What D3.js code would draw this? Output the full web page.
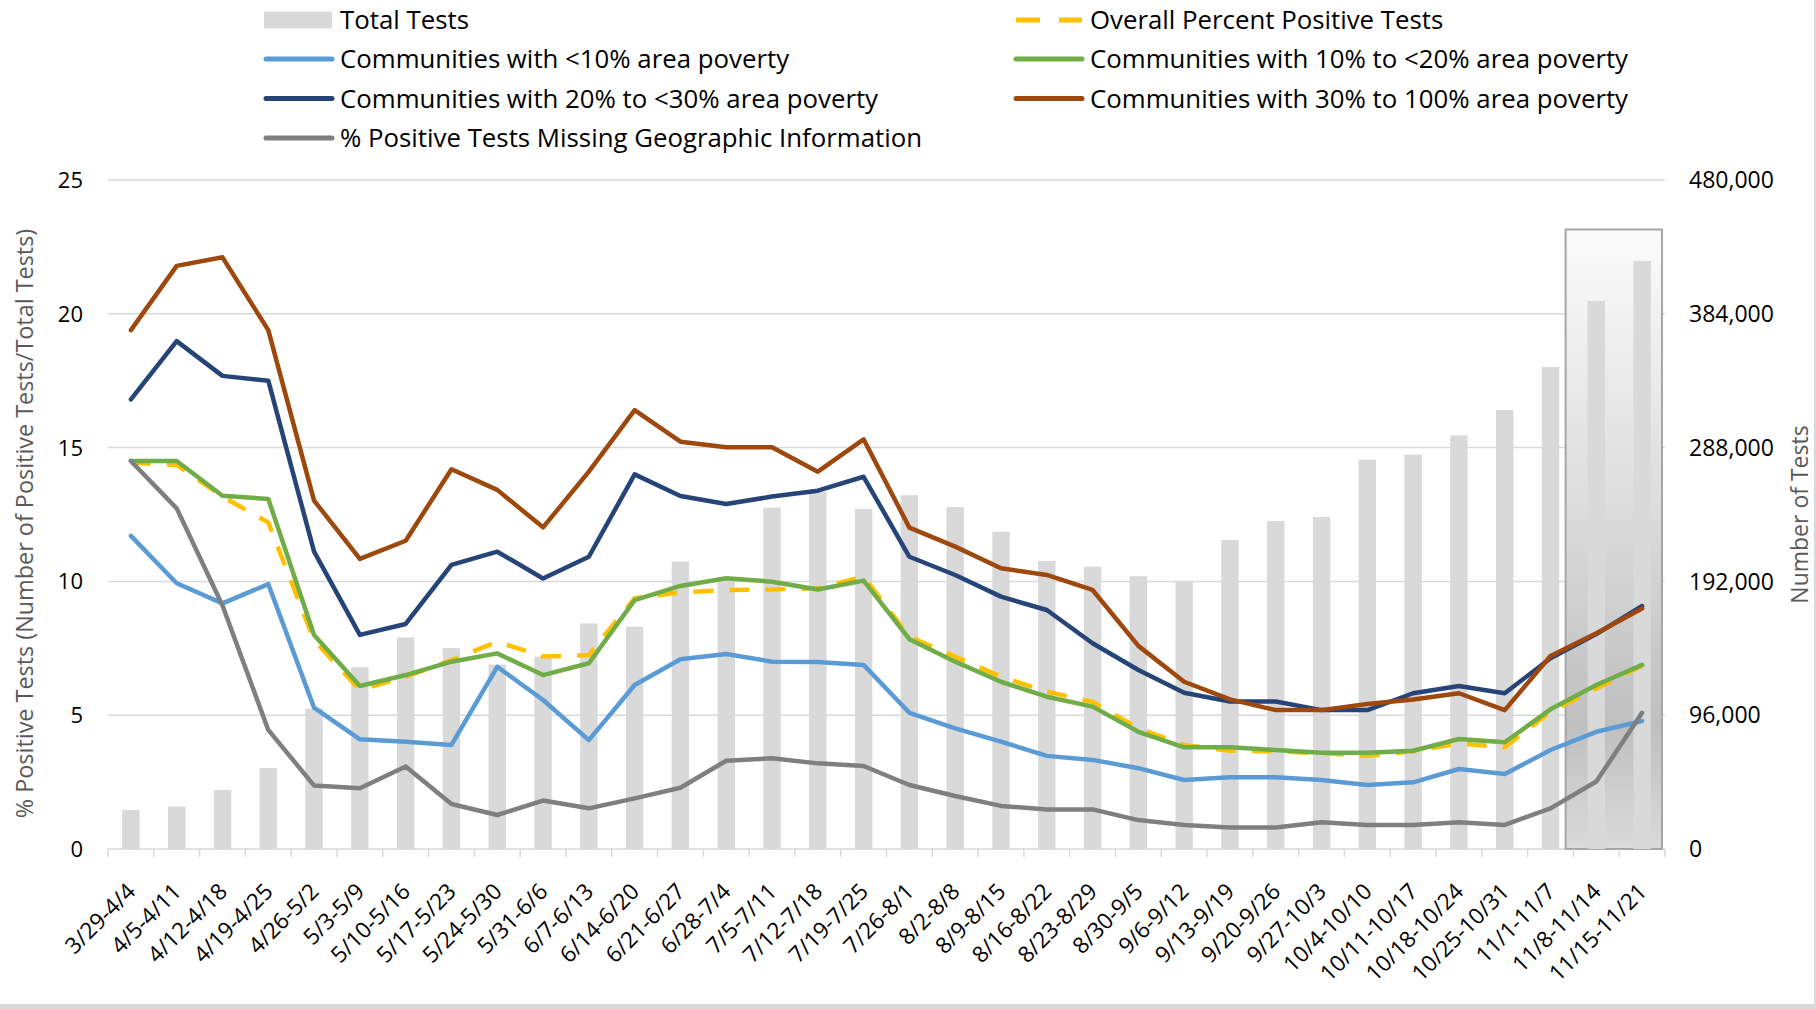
<!DOCTYPE html>
<html>
<head>
<meta charset="utf-8">
<script src="https://cdn.jsdelivr.net/npm/d3@7"></script>
<style>
  body { margin: 0; background: #fff; }
  svg { display: block; }
  text { font-family: "Open Sans", sans-serif; fill: #000; }
</style>
</head>
<body>
<div id="chart"></div>
<script>
// weekly data
const weeks = ["3/29-4/4", "4/5-4/11", "4/12-4/18", "4/19-4/25", "4/26-5/2", "5/3-5/9",
  "5/10-5/16", "5/17-5/23", "5/24-5/30", "5/31-6/6", "6/7-6/13", "6/14-6/20", "6/21-6/27",
  "6/28-7/4", "7/5-7/11", "7/12-7/18", "7/19-7/25", "7/26-8/1", "8/2-8/8", "8/9-8/15",
  "8/16-8/22", "8/23-8/29", "8/30-9/5", "9/6-9/12", "9/13-9/19", "9/20-9/26", "9/27-10/3",
  "10/4-10/10", "10/11-10/17", "10/18-10/24", "10/25-10/31", "11/1-11/7", "11/8-11/14", "11/15-11/21"];

const totalTests = [28000, 30500, 42300, 58100, 100700, 130400, 151900, 144200, 132300, 138000,
  161900, 159500, 206200, 195000, 244900, 256400, 244000, 253800, 245400, 227700, 206600, 202600,
  195700, 191800, 221700, 235300, 238200, 279400, 283000, 296800, 315000, 345800, 393200, 421900];

const overallPct = [14.44, 14.35, 13.17, 12.2, 7.8, 5.94, 6.44, 7.06, 7.75, 7.19, 7.25, 9.37, 9.59,
  9.68, 9.7, 9.74, 10.18, 7.93, 7.19, 6.44, 5.88, 5.5, 4.51, 3.89, 3.67, 3.65, 3.58, 3.48, 3.65,
  3.95, 3.8, 5.13, 6.0, 6.85];

const povertyUnder10 = [11.7, 9.93, 9.18, 9.9, 5.28, 4.1, 4.01, 3.89, 6.81, 5.57, 4.07, 6.13, 7.09,
  7.29, 7.0, 6.99, 6.88, 5.09, 4.51, 4.01, 3.48, 3.33, 3.02, 2.58, 2.68, 2.68, 2.58, 2.39, 2.49,
  2.99, 2.8, 3.7, 4.38, 4.78];

const poverty10to20 = [14.5, 14.5, 13.2, 13.08, 8.0, 6.09, 6.5, 7.0, 7.31, 6.5, 6.94, 9.3, 9.83,
  10.12, 9.99, 9.7, 10.03, 7.84, 7.0, 6.25, 5.69, 5.32, 4.38, 3.8, 3.8, 3.7, 3.6, 3.6, 3.67, 4.11,
  3.99, 5.22, 6.13, 6.88];

const poverty20to30 = [16.8, 18.98, 17.68, 17.5, 11.11, 8.0, 8.41, 10.62, 11.11, 10.11, 10.92, 14.0,
  13.19, 12.89, 13.17, 13.39, 13.91, 10.92, 10.24, 9.43, 8.93, 7.69, 6.69, 5.84, 5.51, 5.51, 5.19,
  5.19, 5.82, 6.09, 5.82, 7.13, 8.03, 9.08];

const poverty30to100 = [19.39, 21.79, 22.11, 19.39, 13.02, 10.84, 11.52, 14.19, 13.42, 12.02, 14.1,
  16.4, 15.22, 15.01, 15.01, 14.1, 15.31, 12.01, 11.3, 10.49, 10.24, 9.68, 7.59, 6.25, 5.59, 5.19,
  5.19, 5.42, 5.59, 5.82, 5.19, 7.21, 8.06, 8.99];

const missingGeo = [14.5, 12.73, 9.1, 4.45, 2.37, 2.27, 3.08, 1.68, 1.27, 1.81, 1.52, 1.89, 2.29,
  3.3, 3.39, 3.2, 3.1, 2.39, 1.98, 1.61, 1.48, 1.48, 1.08, 0.9, 0.8, 0.8, 1.0, 0.9, 0.9, 1.0, 0.9,
  1.52, 2.52, 5.09];

const leftTicks = [0, 5, 10, 15, 20, 25];
const rightTicks = [0, 96000, 192000, 288000, 384000, 480000];

const width = 1816, height = 1009;
const plot = { left: 108, right: 1665, top: 180, bottom: 849 };

const series = [
  { name: "Overall Percent Positive Tests", values: overallPct, color: "#ffc000", dash: "20,16" },
  { name: "Communities with <10% area poverty", values: povertyUnder10, color: "#5b9bd5" },
  { name: "Communities with 10% to <20% area poverty", values: poverty10to20, color: "#70ad47" },
  { name: "Communities with 20% to <30% area poverty", values: poverty20to30, color: "#264478" },
  { name: "Communities with 30% to 100% area poverty", values: poverty30to100, color: "#9e480e" },
  { name: "% Positive Tests Missing Geographic Information", values: missingGeo, color: "#7f7f7f" }
];

let svg = d3.select("#chart")
  .append("svg")
  .attr("width", width)
  .attr("height", height);

let x = d3.scaleBand()
  .domain(weeks)
  .range([plot.left, plot.right])
  .padding(0);

let yLeft = d3.scaleLinear().domain([0, 25]).range([plot.bottom, plot.top]);
let yRight = d3.scaleLinear().domain([0, 480000]).range([plot.bottom, plot.top]);

let step = x.bandwidth();
let barW = step * 0.38;
let cx = d => x(d) + step / 2;

// frame edges at right and bottom
svg.append("line")
  .attr("x1", 0).attr("x2", width)
  .attr("y1", height - 2.5).attr("y2", height - 2.5)
  .attr("stroke", "#d9d9d9").attr("stroke-width", 5);
svg.append("line")
  .attr("x1", width - 1).attr("x2", width - 1)
  .attr("y1", 0).attr("y2", height)
  .attr("stroke", "#d9d9d9").attr("stroke-width", 2);

// gridlines
svg.append("g")
  .selectAll("line")
  .data(leftTicks)
  .enter().append("line")
    .attr("x1", plot.left).attr("x2", plot.right)
    .attr("y1", d => yLeft(d)).attr("y2", d => yLeft(d))
    .attr("stroke", "#d9d9d9")
    .attr("stroke-width", 1.5);

// highlighted last two weeks
let grad = svg.append("defs").append("linearGradient")
  .attr("id", "boxGrad")
  .attr("x1", 0).attr("y1", 0).attr("x2", 0).attr("y2", 1);
[[0, "#fbfbfb"], [0.45, "#dcdcdc"], [0.8, "#bfbfbf"], [1, "#dadada"]].forEach(s => {
  grad.append("stop").attr("offset", s[0]).attr("stop-color", s[1]);
});

svg.append("rect")
  .attr("x", x(weeks[32]) - step * 0.17)
  .attr("y", yLeft(23.15))
  .attr("width", plot.right - 3 - (x(weeks[32]) - step * 0.17))
  .attr("height", yLeft(0) - yLeft(23.15))
  .attr("fill", "url(#boxGrad)")
  .attr("stroke", "#a6a6a6")
  .attr("stroke-width", 2);

// total tests bars
svg.append("g")
  .selectAll("rect")
  .data(totalTests)
  .enter().append("rect")
    .attr("x", (d, i) => cx(weeks[i]) - barW / 2)
    .attr("y", d => yRight(d))
    .attr("width", barW)
    .attr("height", d => yRight(0) - yRight(d))
    .attr("fill", "#d9d9d9");

// x axis ticks at category boundaries
let edges = weeks.map(w => x(w)).concat([plot.right]);
svg.append("g")
  .selectAll("line")
  .data(edges)
  .enter().append("line")
    .attr("x1", d => d).attr("x2", d => d)
    .attr("y1", plot.bottom).attr("y2", plot.bottom + 8)
    .attr("stroke", "#d9d9d9")
    .attr("stroke-width", 1.5);

// lines
let line = d3.line()
  .x((d, i) => cx(weeks[i]))
  .y(d => yLeft(d));

series.forEach(s => {
  svg.append("path")
    .datum(s.values)
    .attr("d", line)
    .attr("fill", "none")
    .attr("stroke", s.color)
    .attr("stroke-width", 4.5)
    .attr("stroke-linejoin", "round")
    .attr("stroke-linecap", s.dash ? "butt" : "round")
    .attr("stroke-dasharray", s.dash || null);
});

// left axis labels
svg.append("g")
  .selectAll("text")
  .data(leftTicks)
  .enter().append("text")
    .attr("x", 83)
    .attr("y", d => yLeft(d))
    .attr("dy", "0.36em")
    .attr("text-anchor", "end")
    .attr("font-size", 22)
    .text(d => d);

// right axis labels
svg.append("g")
  .selectAll("text")
  .data(rightTicks)
  .enter().append("text")
    .attr("x", 1689)
    .attr("y", d => yRight(d))
    .attr("dy", "0.36em")
    .attr("text-anchor", "start")
    .attr("font-size", 23)
    .text(d => d3.format(",")(d));

// category labels
svg.append("g")
  .selectAll("text")
  .data(weeks)
  .enter().append("text")
    .attr("transform", d => "translate(" + (cx(d) + 6) + "," + (plot.bottom + 44) + ") rotate(-45)")
    .attr("text-anchor", "end")
    .attr("font-size", 22.5)
    .text(d => d);

// axis titles
svg.append("text")
  .attr("transform", "translate(33," + ((plot.top + plot.bottom) / 2 + 9) + ") rotate(-90)")
  .attr("text-anchor", "middle")
  .attr("font-size", 23.4)
  .style("fill", "#595959")
  .text("% Positive Tests (Number of Positive Tests/Total Tests)");

svg.append("text")
  .attr("transform", "translate(1808," + (plot.top + plot.bottom) / 2 + ") rotate(-90)")
  .attr("text-anchor", "middle")
  .attr("font-size", 23)
  .style("fill", "#595959")
  .text("Number of Tests");

// legend
let legendItems = [
  { label: "Total Tests", type: "bar", col: 0, row: 0 },
  { label: series[0].name, s: series[0], col: 1, row: 0 },
  { label: series[1].name, s: series[1], col: 0, row: 1 },
  { label: series[2].name, s: series[2], col: 1, row: 1 },
  { label: series[3].name, s: series[3], col: 0, row: 2 },
  { label: series[4].name, s: series[4], col: 1, row: 2 },
  { label: series[5].name, s: series[5], col: 0, row: 3 }
];
let colX = [264, 1014];
let rowY = [20, 59, 98.5, 138];

let legend = svg.append("g");
legendItems.forEach(item => {
  let lx = colX[item.col], ly = rowY[item.row];
  if (item.type === "bar") {
    legend.append("rect")
      .attr("x", lx).attr("y", ly - 8.5)
      .attr("width", 68).attr("height", 17)
      .attr("fill", "#d9d9d9");
  } else {
    legend.append("line")
      .attr("x1", lx + 2).attr("x2", lx + 68)
      .attr("y1", ly).attr("y2", ly)
      .attr("stroke", item.s.color)
      .attr("stroke-width", 5)
      .attr("stroke-linecap", item.s.dash ? "butt" : "round")
      .attr("stroke-dasharray", item.s.dash ? "24,19" : null);
  }
  legend.append("text")
    .attr("x", lx + 76)
    .attr("y", ly)
    .attr("dy", "0.36em")
    .attr("font-size", 25.8)
    .text(item.label);
});
</script>
</body>
</html>
